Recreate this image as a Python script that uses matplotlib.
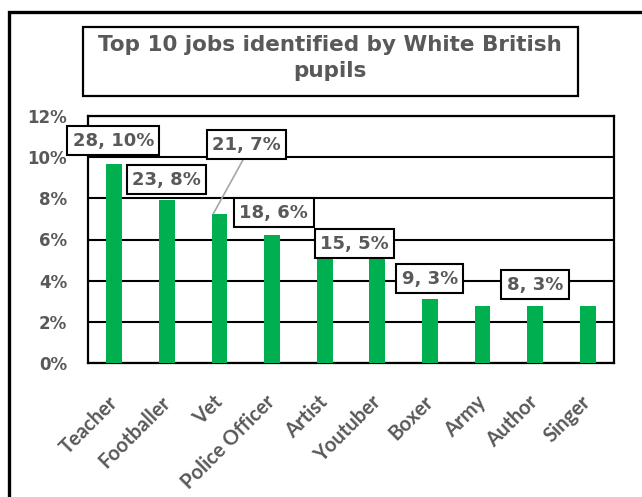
import matplotlib.pyplot as plt
from matplotlib.patches import Rectangle
from matplotlib.ticker import PercentFormatter

# top 10 jobs picked by White British pupils
jobs = ['Teacher', 'Footballer', 'Vet', 'Police Officer', 'Artist',
        'Youtuber', 'Boxer', 'Army', 'Author', 'Singer']
counts = [28, 23, 21, 18, 15, 15, 9, 8, 8, 8]
total = 290

shares = [c / total for c in counts]

# which bars get a label, and where the label box sits (x, y in data units)
labelled = [0, 1, 2, 3, 4, 6, 8]
label_xy = {0: (-0.02, 0.108), 1: (0.99, 0.089), 2: (2.51, 0.106),
            3: (3.03, 0.073), 4: (4.57, 0.058), 6: (6.0, 0.041),
            8: (8.0, 0.038)}

grey = '#595959'
green = '#00B050'

fig = plt.figure(figsize=(6.42, 4.97), dpi=100)

# outer frame and title box
fig.patches.append(Rectangle((9 / 642, -0.1), 1.0, 1 - 12 / 497 + 0.1,
                             transform=fig.transFigure, fill=False,
                             edgecolor='black', linewidth=2.4))
fig.patches.append(Rectangle((83 / 642, 1 - 96 / 497), 495 / 642, 69 / 497,
                             transform=fig.transFigure, fill=False,
                             edgecolor='black', linewidth=1.6))
fig.text(330 / 642, 1 - 58 / 497,
         'Top 10 jobs identified by White British\npupils',
         ha='center', va='center', fontsize=15.5, fontweight='bold',
         color=grey, family='DejaVu Sans', linespacing=1.35)

ax = fig.add_axes([88 / 642, 1 - 363 / 497, 526 / 642, 247 / 497])
x = list(range(len(jobs)))
ax.bar(x, shares, width=0.3, color=green, zorder=3)

ax.set_xlim(-0.5, len(jobs) - 0.5)
ax.set_ylim(0, 0.12)
ax.set_yticks([0, 0.02, 0.04, 0.06, 0.08, 0.10, 0.12])
ax.yaxis.set_major_formatter(PercentFormatter(1.0, decimals=0))
ax.grid(axis='y', color='black', linewidth=1.5, zorder=1)
for s in ax.spines.values():
    s.set_linewidth(1.6)
    s.set_color('black')

ax.tick_params(axis='y', length=0, pad=15, labelsize=12, labelcolor=grey)
for t in ax.get_yticklabels():
    t.set_fontweight('bold')
    t.set_family('DejaVu Sans')

ax.set_xticks(x)
ax.set_xticklabels(jobs, rotation=45, ha='right', va='center',
                   rotation_mode='anchor', fontsize=14.5, fontweight='bold',
                   color=grey, family='Lato')
ax.tick_params(axis='x', length=0, pad=26)

box = dict(boxstyle='square,pad=0.3', facecolor='white', edgecolor='black',
           linewidth=1.5)
for i in labelled:
    txt = f'{counts[i]}, {shares[i]:.0%}'
    lx, ly = label_xy[i]
    if i == 2:
        # Vet label sits higher, joined to its bar by a leader line
        ax.annotate(txt, xy=(i - 0.12, shares[i]), xytext=(lx, ly),
                    ha='center', va='center', fontsize=13, fontweight='bold',
                    color=grey, family='DejaVu Sans', bbox=box, zorder=5,
                    arrowprops=dict(arrowstyle='-', color='#a6a6a6',
                                    linewidth=1.2, shrinkA=0, shrinkB=0,
                                    relpos=(0.5, 0.0)))
    else:
        ax.text(lx, ly, txt, ha='center', va='center', fontsize=13,
                fontweight='bold', color=grey, family='DejaVu Sans',
                bbox=box, zorder=5)

fig.savefig('out.png', dpi=100)
